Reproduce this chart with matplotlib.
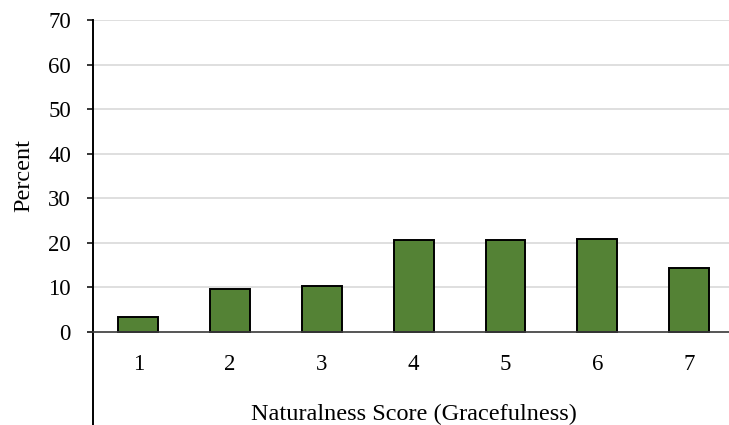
import matplotlib
matplotlib.use("Agg")
import matplotlib.pyplot as plt

scores = [1, 2, 3, 4, 5, 6, 7]
percent = [3.3, 9.5, 10.3, 20.5, 20.5, 20.8, 14.2]
y_ticks = [0, 10, 20, 30, 40, 50, 60, 70]

plt.rcParams['font.family'] = ['Liberation Serif', 'DejaVu Serif']

fig = plt.figure(figsize=(7.29, 4.25), dpi=100)
# plot area runs past the right edge, like the cropped original
ax = fig.add_axes([92.5/729, 0.0, (735-92.5)/729, 405/425])

ax.bar(scores, percent, width=0.435, color='#548235',
       edgecolor='black', linewidth=1.4, zorder=3)

ax.set_xlim(0.5, 7.5)
ax.set_ylim(-21, 70)
ax.set_yticks(y_ticks)
ax.set_yticklabels([str(t) for t in y_ticks])
ax.set_xticks(scores)
ax.set_xticklabels([str(s) for s in scores])
ax.tick_params(axis='y', direction='out', length=4.5, width=1.1,
               labelsize=16.5, pad=11, color='black')
ax.tick_params(axis='x', length=0, labelsize=16.5, pad=16)
ax.yaxis.grid(True, color='#d9d9d9', linewidth=1.2, zorder=0)
ax.set_axisbelow(True)

for s in ['top', 'right']:
    ax.spines[s].set_visible(False)
ax.spines['left'].set_linewidth(1.4)
ax.spines['bottom'].set_position(('data', 0))
ax.spines['bottom'].set_color('#3f3f3f')
ax.spines['bottom'].set_linewidth(1.2)
ax.spines['bottom'].set_zorder(4)

ax.set_ylabel('Percent', fontsize=17.5)
ax.set_xlabel('Naturalness Score (Gracefulness)', fontsize=17.5, labelpad=21)
ax.yaxis.set_label_coords(-0.09, 0.615)

fig.savefig('out.png', dpi=100)
